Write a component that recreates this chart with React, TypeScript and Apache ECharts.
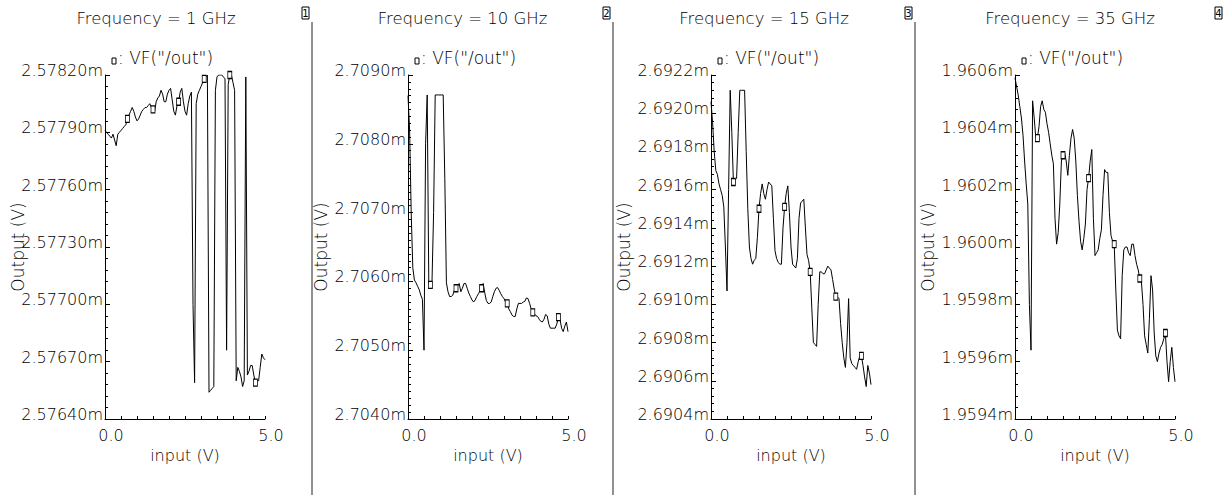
import React, { useEffect, useRef } from 'react';
import * as echarts from 'echarts';

// Input sweep (V)
const INPUT_V = [
  0, 0.05, 0.1, 0.15, 0.2, 0.25, 0.3, 0.35, 0.4, 0.45,
  0.5, 0.55, 0.6, 0.65, 0.7, 0.75, 0.8, 0.85, 0.9, 0.95,
  1, 1.05, 1.1, 1.15, 1.2, 1.25, 1.3, 1.35, 1.4, 1.45,
  1.5, 1.55, 1.6, 1.65, 1.7, 1.75, 1.8, 1.85, 1.9, 1.95,
  2, 2.05, 2.1, 2.15, 2.2, 2.25, 2.3, 2.35, 2.4, 2.45,
  2.5, 2.55, 2.6, 2.65, 2.7, 2.75, 2.8, 2.85, 2.9, 2.95,
  3, 3.05, 3.1, 3.15, 3.2, 3.25, 3.3, 3.35, 3.4, 3.45,
  3.5, 3.55, 3.6, 3.65, 3.7, 3.75, 3.8, 3.85, 3.9, 3.95,
  4, 4.05, 4.1, 4.15, 4.2, 4.25, 4.3, 4.35, 4.4, 4.45,
  4.5, 4.55, 4.6, 4.65, 4.7, 4.75, 4.8, 4.85, 4.9, 4.95,
  5,
];

// Output (mV) at 1 GHz
const OUT_1GHZ = [
  2.57791, 2.5779, 2.57789, 2.57788, 2.57787, 2.57789, 2.57786, 2.57783, 2.57789, 2.5779,
  2.57791, 2.57792, 2.57793, 2.57794, 2.57797, 2.57799, 2.57801, 2.57803, 2.57801, 2.57798,
  2.57796, 2.57797, 2.57799, 2.57801, 2.57802, 2.57803, 2.57803, 2.57804, 2.57805, 2.57803,
  2.57802, 2.57801, 2.57806, 2.57808, 2.57809, 2.57812, 2.5781, 2.57806, 2.57806, 2.5781,
  2.57812, 2.57813, 2.57807, 2.57801, 2.57799, 2.57804, 2.57806, 2.57811, 2.57813, 2.57806,
  2.57801, 2.57799, 2.57805, 2.57809, 2.57811, 2.577, 2.57659, 2.57805, 2.5781, 2.57812,
  2.57814, 2.57816, 2.57818, 2.57819, 2.5782, 2.57654, 2.57655, 2.57656, 2.57657, 2.57812,
  2.57819, 2.5782, 2.5782, 2.5782, 2.57819, 2.57818, 2.57676, 2.57815, 2.5782, 2.5782,
  2.57816, 2.57812, 2.5766, 2.57667, 2.57665, 2.57662, 2.57657, 2.5766, 2.57819, 2.57663,
  2.57665, 2.57668, 2.57668, 2.57663, 2.57659, 2.5766, 2.5766, 2.57667, 2.57674, 2.57672,
  2.57671,
];

// Output (mV) at 10 GHz
const OUT_10GHZ = [
  2.7087, 2.7082, 2.707, 2.7062, 2.70602, 2.70598, 2.70593, 2.70588, 2.7058, 2.70574,
  2.705, 2.708, 2.70871, 2.70596, 2.70595, 2.706, 2.707, 2.70871, 2.70871, 2.70871,
  2.70871, 2.70871, 2.70871, 2.7075, 2.70598, 2.70585, 2.70578, 2.70578, 2.7058, 2.70587,
  2.7059, 2.70593, 2.70597, 2.70585, 2.7059, 2.70597, 2.70597, 2.7059, 2.70583, 2.70578,
  2.70573, 2.7057, 2.70573, 2.70578, 2.70582, 2.70586, 2.7059, 2.70597, 2.70583, 2.70572,
  2.70568, 2.70568, 2.7057, 2.70578, 2.70585, 2.7059, 2.70591, 2.70587, 2.70582, 2.70578,
  2.70575, 2.7057, 2.70568, 2.7056, 2.70556, 2.70551, 2.70549, 2.70549, 2.7056, 2.70568,
  2.70568, 2.70568, 2.7057, 2.70571, 2.70576, 2.70575, 2.70568, 2.7056, 2.70555, 2.70553,
  2.7055, 2.70549, 2.70545, 2.70542, 2.70541, 2.70545, 2.70552, 2.7055, 2.70538, 2.70532,
  2.70532, 2.70532, 2.70532, 2.70538, 2.70548, 2.70545, 2.70532, 2.70527, 2.70535, 2.70541,
  2.70527,
];

// Output (mV) at 15 GHz
const OUT_15GHZ = [
  2.69206, 2.69195, 2.6918, 2.6917, 2.69168, 2.69163, 2.6916, 2.69157, 2.69151, 2.6913,
  2.69107, 2.6916, 2.69212, 2.6919, 2.69164, 2.69165, 2.69166, 2.6919, 2.69212, 2.69212,
  2.69212, 2.69212, 2.6918, 2.6915, 2.6913, 2.69124, 2.69121, 2.69123, 2.69124, 2.69135,
  2.6915, 2.69158, 2.69163, 2.69158, 2.69155, 2.6916, 2.69164, 2.69163, 2.69162, 2.69145,
  2.69128, 2.69124, 2.69122, 2.69121, 2.69121, 2.6914, 2.69151, 2.69158, 2.69162, 2.69148,
  2.6913, 2.69121, 2.6912, 2.69119, 2.69124, 2.69145, 2.69153, 2.69154, 2.69155, 2.6914,
  2.69126, 2.69123, 2.69117, 2.69098, 2.6908, 2.69079, 2.69078, 2.691, 2.69117, 2.69117,
  2.69116, 2.69116, 2.69118, 2.6912, 2.69119, 2.69118, 2.69113, 2.69108, 2.69104, 2.69104,
  2.69103, 2.6909, 2.6908, 2.69072, 2.69067, 2.6908, 2.69103, 2.69072, 2.69069, 2.69068,
  2.69067, 2.69066, 2.6907, 2.69073, 2.69073, 2.69068, 2.69062, 2.69057, 2.69068, 2.69064,
  2.69058,
];

// Output (mV) at 35 GHz
const OUT_35GHZ = [
  1.96059, 1.96056, 1.96053, 1.96049, 1.96045, 1.96039, 1.9603, 1.96022, 1.96015, 1.9598,
  1.95964, 1.96051, 1.96045, 1.96038, 1.96038, 1.96042, 1.96049, 1.96051, 1.96048, 1.96047,
  1.96043, 1.9604, 1.96036, 1.96032, 1.96029, 1.9601, 1.96001, 1.96005, 1.96015, 1.9603,
  1.96032, 1.96033, 1.9603, 1.96025, 1.96032, 1.96038, 1.96041, 1.96038, 1.9603, 1.96018,
  1.96009, 1.96002, 1.95999, 1.96003, 1.96008, 1.9602, 1.96024, 1.9603, 1.96034, 1.9601,
  1.95997, 1.95998, 1.95999, 1.96003, 1.96006, 1.96018, 1.96027, 1.96026, 1.96026, 1.96012,
  1.96004, 1.96002, 1.96001, 1.95985, 1.95971, 1.95969, 1.95968, 1.9599, 1.95999, 1.96,
  1.96, 1.95998, 1.95997, 1.96001, 1.96001, 1.95997, 1.95994, 1.95992, 1.95989, 1.95988,
  1.9598, 1.95969, 1.95966, 1.95963, 1.95975, 1.9599, 1.95985, 1.9597, 1.95962, 1.9596,
  1.95963, 1.95965, 1.95966, 1.95968, 1.9597, 1.9596, 1.95953, 1.9596, 1.95965, 1.95958,
  1.95953,
];

const SERIES_DATA = [OUT_1GHZ, OUT_10GHZ, OUT_15GHZ, OUT_35GHZ];
const TITLES = ['Frequency = 1 GHz', 'Frequency = 10 GHz', 'Frequency = 15 GHz', 'Frequency = 35 GHz'];
const PANEL_NUMBERS = ['1', '2', '3', '4'];
const LEGEND_TEXT = ': VF("/out")';
const Y_NAME = 'Output (V)';
const X_NAME = 'input (V)';
const Y_MIN = [2.5764, 2.704, 2.6904, 1.9594];
const Y_MAX = [2.5782, 2.709, 2.6922, 1.9606];
const Y_STEP = [0.0003, 0.001, 0.0002, 0.0002];
const Y_DECIMALS = [5, 4, 4, 4];
const Y_MINOR = [5, 10, 5, 5];
const X_LABELED = [0, 5];

// layout
const W = 1225;
const H = 495;
const PLOT_LEFT = [105, 408, 711, 1015];
const PLOT_TOP = 75;
const PLOT_W = 160;
const PLOT_H = 344;
const PANEL_EDGES = [0, 312, 613, 915, 1225];
const SEPARATORS = [312, 613, 915];
const FONT = '"DejaVu Sans", sans-serif';
const WEIGHT = 200;
const INK = '#000';

function buildOption() {
  const grid = PLOT_LEFT.map((l) => ({ left: l, top: PLOT_TOP, width: PLOT_W, height: PLOT_H }));

  const xAxis = PLOT_LEFT.map((_, k) => ({
    gridIndex: k,
    type: 'value',
    min: 0,
    max: 5,
    interval: 0.5,
    axisLine: { show: true, onZero: false, lineStyle: { color: '#000', width: 1 } },
    axisTick: { show: true, inside: true, length: 3, lineStyle: { color: '#000' } },
    splitLine: { show: false },
    axisLabel: {
      formatter: (v: number) => (X_LABELED.some((t) => Math.abs(t - v) < 1e-6) ? v.toFixed(1) : ''),
      margin: 8,
      padding: [0, 0, 0, 12],
      color: INK,
      fontSize: 16,
      fontFamily: FONT,
      fontWeight: WEIGHT,
    },
    name: X_NAME,
    nameLocation: 'middle',
    nameGap: 25,
    nameTextStyle: { color: INK, fontSize: 16, fontFamily: FONT, fontWeight: WEIGHT },
  }));

  const yAxis = PLOT_LEFT.map((_, k) => ({
    gridIndex: k,
    type: 'value',
    min: Y_MIN[k],
    max: Y_MAX[k],
    interval: Y_STEP[k],
    axisLine: { show: true, onZero: false, lineStyle: { color: '#000', width: 1 } },
    axisTick: { show: true, inside: true, length: 5, lineStyle: { color: '#000' } },
    minorTick: { show: true, splitNumber: Y_MINOR[k], length: 3, lineStyle: { color: '#000' } },
    splitLine: { show: false },
    minorSplitLine: { show: false },
    axisLabel: {
      formatter: (v: number) => v.toFixed(Y_DECIMALS[k]) + 'm',
      margin: 2,
      verticalAlign: 'bottom',
      lineHeight: 9,
      color: INK,
      fontSize: 16,
      fontFamily: FONT,
      fontWeight: WEIGHT,
    },
    name: Y_NAME,
    nameLocation: 'middle',
    nameGap: 79,
    nameRotate: 90,
    nameMoveOverlap: false,
    nameTextStyle: { color: INK, fontSize: 17, fontFamily: FONT, fontWeight: WEIGHT },
  }));

  const series = SERIES_DATA.map((arr, k) => ({
    type: 'line',
    xAxisIndex: k,
    yAxisIndex: k,
    data: arr.map((v, i) => [INPUT_V[i], v]),
    symbol: 'rect',
    showSymbol: true,
    showAllSymbol: true,
    symbolSize: (_v: any, p: any) => (p.dataIndex % 16 === 14 ? [4, 7] : 0),
    itemStyle: { color: '#fff', borderColor: '#000', borderWidth: 1 },
    lineStyle: { color: '#000', width: 1 },
    silent: true,
    emphasis: { disabled: true },
  }));

  const graphic: any[] = [];
  TITLES.forEach((t, k) => {
    graphic.push({
      type: 'text',
      x: (PANEL_EDGES[k] + PANEL_EDGES[k + 1]) / 2,
      y: 18,
      style: { text: t, fill: INK, font: `${WEIGHT} 16.5px ${FONT}`, align: 'center', verticalAlign: 'middle' },
    });
    graphic.push({
      type: 'rect',
      shape: { x: PLOT_LEFT[k] + 7, y: 58, width: 4, height: 6 },
      style: { fill: '#fff', stroke: '#000', lineWidth: 1 },
    });
    graphic.push({
      type: 'text',
      x: PLOT_LEFT[k] + 13,
      y: 58,
      style: { text: LEGEND_TEXT, fill: INK, font: `${WEIGHT} 17px ${FONT}`, align: 'left', verticalAlign: 'middle' },
    });
    const bx = PANEL_EDGES[k + 1] - 10;
    graphic.push({
      type: 'rect',
      shape: { x: bx, y: 7, width: 7, height: 12 },
      style: { fill: 'none', stroke: '#000', lineWidth: 1 },
    });
    graphic.push({
      type: 'text',
      x: bx + 3.5,
      y: 13,
      style: { text: PANEL_NUMBERS[k], fill: INK, font: `10px ${FONT}`, align: 'center', verticalAlign: 'middle' },
    });
  });
  SEPARATORS.forEach((sx) => {
    graphic.push({
      type: 'line',
      shape: { x1: sx, y1: 22, x2: sx, y2: H },
      style: { stroke: '#222', lineWidth: 1 },
    });
  });

  return {
    animation: false,
    backgroundColor: '#fff',
    grid,
    xAxis,
    yAxis,
    series,
    graphic,
  };
}

export default function App() {
  const ref = useRef<HTMLDivElement>(null);
  useEffect(() => {
    if (!ref.current) return;
    const chart = echarts.init(ref.current, undefined, { renderer: 'svg' });
    chart.setOption(buildOption() as any);
    return () => chart.dispose();
  }, []);
  return (
    <div
      ref={ref}
      style={{ position: 'fixed', left: 0, top: 0, width: W, height: H, background: '#fff' }}
    />
  );
}
